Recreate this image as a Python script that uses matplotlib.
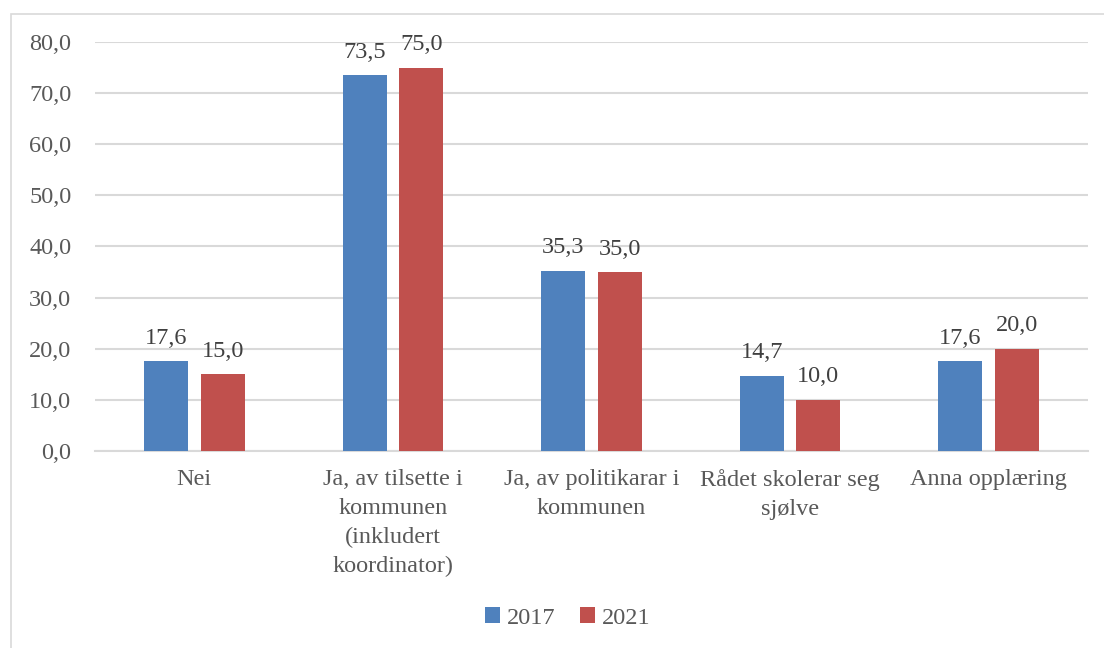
import numpy as np
import matplotlib
matplotlib.use("Agg")
import matplotlib.pyplot as plt
from matplotlib.patches import Rectangle

categories = ["Nei", "Ja, av tilsette i\nkommunen\n(inkludert\nkoordinator)",
              "Ja, av politikarar i\nkommunen", "Rådet skolerar seg\nsjølve", "Anna opplæring"]
years = ["2017", "2021"]
v2017 = [17.6, 73.5, 35.3, 14.7, 17.6]
v2021 = [15.0, 75.0, 35.0, 10.0, 20.0]
yticks = [0, 10, 20, 30, 40, 50, 60, 70, 80]

BLUE, RED, TXT, GRID = "#4F81BD", "#C0504D", "#595959", "#D9D9D9"
FS = 17.5
plt.rcParams.update({"font.family": ["Liberation Serif", "DejaVu Serif"], "font.size": FS})

fig = plt.figure(figsize=(11.04, 6.48), dpi=100)
ax = fig.add_axes([95/1104, 1 - 451/648, (1088-95)/1104, (451-42)/648])

# chart border
fig.patches.append(Rectangle((11/1104, -0.01), 1.02, 1 - 14/648 + 0.01, transform=fig.transFigure,
                             fill=False, edgecolor="#D9D9D9", lw=1.2))

x = np.arange(len(categories))
w, off = 0.222, 0.1425
b1 = ax.bar(x - off, v2017, w, color=BLUE, label=years[0], zorder=3)
b2 = ax.bar(x + off, v2021, w, color=RED, label=years[1], zorder=3)
for bars in (b1, b2):
    for r in bars:
        ax.annotate(f"{r.get_height():.1f}".replace(".", ","),
                    (r.get_x() + r.get_width()/2, r.get_height()),
                    xytext=(0, 9), textcoords="offset points",
                    ha="center", va="bottom", color="#404040", fontsize=FS)

ax.set_xlim(-0.5, len(categories) - 0.5)
ax.set_ylim(0, 80)
ax.set_yticks(yticks)
ax.set_yticklabels([f"{t:.1f}".replace(".", ",") for t in yticks], color=TXT)
ax.set_xticks(x)
ax.set_xticklabels(categories, color=TXT, linespacing=1.5)
ax.tick_params(axis="both", length=0, pad=17)
ax.tick_params(axis="x", pad=13)
ax.grid(axis="y", color=GRID, lw=1.5, zorder=0)
for s in ["top", "right", "left"]:
    ax.spines[s].set_visible(False)
ax.spines["bottom"].set_color(GRID)
ax.spines["bottom"].set_linewidth(1.5)

fig.legend(loc="center", bbox_to_anchor=(568/1104, 1 - 618/648), ncol=2, frameon=False,
           handlelength=0.6, handleheight=0.6, handletextpad=0.3, columnspacing=1.0,
           labelcolor=TXT, fontsize=FS)

fig.savefig("out.png", dpi=100)
